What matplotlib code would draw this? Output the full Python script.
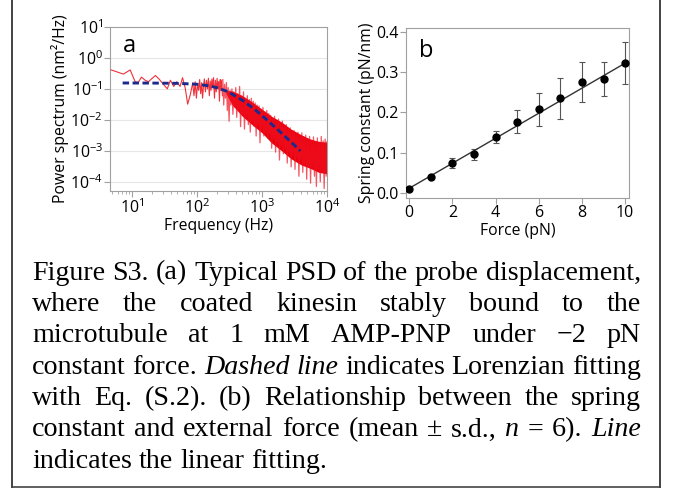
import numpy as np
import matplotlib
matplotlib.use("Agg")
import matplotlib.pyplot as plt
from matplotlib.lines import Line2D
from matplotlib.ticker import LogLocator, NullLocator, NullFormatter

# ---- panel a: PSD ----
# low-frequency part, thin single trace
psd_f_low = [4.8, 7.4, 9.4, 11.2, 12.5, 14, 16, 18, 20, 23, 26, 31, 35, 39, 44, 49, 55, 60, 66, 72, 79, 86]
psd_p_low = [0.41, 0.30, 0.41, 0.17, 0.16, 0.24, 0.19, 0.17, 0.21, 0.27, 0.21, 0.135, 0.10, 0.19, 0.12,
             0.17, 0.12, 0.23, 0.107, 0.032, 0.065, 0.155]
# mid part, jagged
psd_f_mid = [90, 94, 98, 102, 106, 110, 114, 118, 122, 126, 130, 135, 140, 145, 150, 155, 160, 165,
             170, 175, 180, 186, 192, 198, 204, 210, 216, 222, 228, 234, 240, 246]
psd_p_mid = [0.06, 0.17, 0.05, 0.14, 0.09, 0.20, 0.07, 0.16, 0.05, 0.12, 0.21, 0.08, 0.19, 0.10, 0.22,
             0.06, 0.18, 0.09, 0.21, 0.11, 0.23, 0.05, 0.19, 0.08, 0.22, 0.10, 0.17, 0.04, 0.20, 0.09,
             0.19, 0.06]
# high-frequency spikes
psd_f_high = [250, 258, 266, 275, 284, 293, 302, 312, 322, 333, 345, 357, 369, 382, 395, 409, 423, 438,
              453, 469, 485, 502, 520, 538, 557, 576, 596, 617, 639, 661, 684, 708, 733, 759, 785, 813,
              841, 870, 901, 932, 965, 999, 1034, 1070, 1108, 1147, 1187, 1229, 1272, 1316, 1362, 1410,
              1460, 1511, 1564, 1618, 1675, 1734, 1795, 1858, 1923, 1990, 2060, 2132, 2207, 2284, 2364,
              2447, 2533, 2621, 2713, 2808, 2906, 3008, 3113, 3222, 3335, 3452, 3573, 3698, 3827, 3961,
              4100, 4244, 4392, 4546, 4705, 4870, 5040, 5217, 5399, 5588, 5784, 5986, 6196, 6413, 6637,
              6869, 7110, 7359, 7616, 7883, 8159, 8445, 8740, 9046, 9363, 9691, 10000]
psd_p_high = [0.20, 0.03, 0.14, 0.05, 0.16, 0.02, 0.11, 0.009, 0.09, 0.03, 0.10, 0.015, 0.08, 0.025,
              0.11, 0.012, 0.07, 0.02, 0.12, 0.006, 0.06, 0.015, 0.08, 0.005, 0.05, 0.012, 0.06, 0.007,
              0.045, 0.004, 0.05, 0.009, 0.04, 0.006, 0.035, 0.003, 0.03, 0.007, 0.028, 0.0018, 0.022,
              0.005, 0.025, 0.003, 0.018, 0.004, 0.02, 0.0025, 0.016, 0.0035, 0.014, 0.0012, 0.011,
              0.0025, 0.013, 0.0009, 0.009, 0.002, 0.0105, 0.0005, 0.008, 0.0015, 0.009, 0.0008, 0.006,
              0.0012, 0.007, 0.0004, 0.005, 0.0009, 0.0055, 0.0003, 0.004, 0.0007, 0.0045, 0.00025,
              0.0035, 0.0006, 0.004, 0.00015, 0.003, 0.0005, 0.0038, 0.0002, 0.0028, 0.0004, 0.0032,
              0.00012, 0.0025, 0.0003, 0.0029, 0.00009, 0.0022, 0.0003, 0.0028, 0.00015, 0.002, 0.00007,
              0.0026, 0.00025, 0.0019, 0.0001, 0.0029, 0.0002, 0.0021, 0.00006, 0.0024, 0.00015, 0.002]
# dense core of the noisy spectrum
band_f = [280, 350, 500, 700, 1000, 1400, 2000, 2800, 4000, 5500, 7500, 10000]
band_hi = [0.09, 0.085, 0.06, 0.038, 0.022, 0.013, 0.0085, 0.005, 0.0033, 0.0024, 0.002, 0.0019]
band_lo = [0.07, 0.03, 0.013, 0.007, 0.0038, 0.0018, 0.001, 0.00055, 0.00035, 0.00027, 0.0002, 0.00018]
# Lorentzian fit (dashed)
fit_f = [7.2, 20, 50, 100, 150, 200, 300, 500, 800, 1200, 2000, 3900]
fit_p = [0.155, 0.154, 0.151, 0.141, 0.126, 0.110, 0.081, 0.043, 0.0205, 0.0098, 0.0037, 0.00099]

# ---- panel b: spring constant vs force ----
force = [0, 1, 2, 3, 4, 5, 6, 7, 8, 9, 10]
spring_k = [0.009, 0.040, 0.074, 0.096, 0.138, 0.177, 0.208, 0.236, 0.277, 0.284, 0.323]
spring_sd = [0.002, 0.005, 0.013, 0.014, 0.015, 0.028, 0.041, 0.051, 0.050, 0.042, 0.052]
lin_x = [0, 10]
lin_y = [0.011, 0.323]

W, H = 679, 488
fig = plt.figure(figsize=(W / 100, H / 100), dpi=100)
sans = ['Open Sans', 'DejaVu Sans']
plt.rcParams['font.family'] = sans
plt.rcParams['mathtext.fontset'] = 'custom'
plt.rcParams['mathtext.rm'] = 'Open Sans'

spine_col = '#a0a0a0'
lab_size = 11.3
tick_size = 11.5

# Panel a
ax1 = fig.add_axes([110 / W, 1 - 191 / H, 217 / W, 164 / H])
ax1.set_xscale('log')
ax1.set_yscale('log')
for yv in [1e-4, 1e-3, 1e-2, 1e-1, 1e0]:
    ax1.axhline(yv, color='#e6e6e6', lw=0.8, zorder=0)
ax1.fill_between(band_f, band_lo, band_hi, color='#e8000e', lw=0, zorder=2)
ax1.plot(psd_f_low + psd_f_mid, psd_p_low + psd_p_mid, color='#f0303a', lw=0.8, zorder=3)
ax1.plot(psd_f_high, psd_p_high, color='#f01020', lw=0.9, alpha=0.7, zorder=3)
ax1.plot(fit_f, fit_p, color='#1c2a8c', lw=2.1, ls=(0, (2.2, 1.2)), zorder=4)
ax1.set_xlim(4.6, 1e4)
ax1.set_ylim(5e-5, 10)
ax1.set_xticks([1e1, 1e2, 1e3, 1e4])
ax1.set_xticklabels(['10$^{1}$', '10$^{2}$', '10$^{3}$', '10$^{4}$'])
ax1.set_yticks([1e-4, 1e-3, 1e-2, 1e-1, 1e0, 1e1])
ax1.set_yticklabels(['10$^{-4}$', '10$^{-3}$', '10$^{-2}$', '10$^{-1}$', '10$^{0}$', '10$^{1}$'])
ax1.xaxis.set_minor_locator(LogLocator(base=10, subs=np.arange(2, 10)))
ax1.xaxis.set_minor_formatter(NullFormatter())
ax1.yaxis.set_minor_locator(NullLocator())
ax1.tick_params(which='major', direction='out', length=4, color=spine_col, labelsize=tick_size, pad=1)
ax1.tick_params(which='minor', direction='out', length=2.5, color=spine_col)
for s in ax1.spines.values():
    s.set_color(spine_col)
    s.set_linewidth(0.8)
ax1.set_xlabel('Frequency (Hz)', fontsize=lab_size, labelpad=1)
ax1.set_ylabel('Power spectrum (nm²/Hz)', fontsize=lab_size, labelpad=1)
ax1.text(0.06, 0.85, 'a', transform=ax1.transAxes, fontsize=17)

# Panel b
ax2 = fig.add_axes([406 / W, 1 - 197.7 / H, 223 / W, 169.4 / H])
ax2.errorbar(force, spring_k, yerr=spring_sd, fmt='none', ecolor='#555555', elinewidth=0.8,
             capsize=2.5, capthick=0.8, zorder=2)
ax2.plot(lin_x, lin_y, color='#333333', lw=1.0, zorder=3)
ax2.plot(force, spring_k, 'o', color='black', ms=5, zorder=4)
ax2.set_xlim(-0.15, 10.18)
ax2.set_ylim(-0.0125, 0.41)
ax2.set_xticks([0, 2, 4, 6, 8, 10])
ax2.set_yticks([0.0, 0.1, 0.2, 0.3, 0.4])
ax2.set_yticklabels(['0.0', '0.1', '0.2', '0.3', '0.4'])
ax2.tick_params(direction='out', length=4, color=spine_col, labelsize=tick_size, pad=1)
for s in ax2.spines.values():
    s.set_color(spine_col)
    s.set_linewidth(0.8)
ax2.set_xlabel('Force (pN)', fontsize=lab_size, labelpad=2)
ax2.set_ylabel('Spring constant (pN/nm)', fontsize=lab_size, labelpad=1)
ax2.text(0.06, 0.83, 'b', transform=ax2.transAxes, fontsize=17)

# Caption, justified
caption_lines = [
    "Figure S3. (a) Typical PSD of the probe displacement,",
    "where the coated kinesin stably bound to the",
    "microtubule at 1 mM AMP-PNP under \u22122 pN",
    "constant force. *Dashed *line indicates Lorenzian fitting",
    "with Eq. (S.2). (b) Relationship between the spring",
    "constant and external force (mean \u00b1 s.d., *n = 6). *Line",
    "indicates the linear fitting.",
]
cap_left, cap_right = 32, 641
cap_base0, cap_step = 279.5, 31.4
renderer = fig.canvas.get_renderer()

# size the serif font so the first (tight) line fills the text width
probe = fig.text(0, 0, caption_lines[0], fontsize=10, family='Liberation Serif')
cap_size = 10 * (cap_right - cap_left) / probe.get_window_extent(renderer).width * 0.995
probe.remove()

for i, line in enumerate(caption_lines):
    yb = 1 - (cap_base0 + i * cap_step) / H
    words = line.split(' ')
    texts = []
    for w in words:
        st = 'italic' if w.startswith('*') else 'normal'
        t = fig.text(0, yb, w.lstrip('*'), fontsize=cap_size, family='Liberation Serif',
                     style=st, va='baseline', ha='left')
        texts.append(t)
    widths = [t.get_window_extent(renderer).width for t in texts]
    if i == len(caption_lines) - 1:
        gap = 0.25 * cap_size * 100 / 72
    else:
        gap = (cap_right - cap_left - sum(widths)) / (len(words) - 1)
    x = cap_left
    for t, wd in zip(texts, widths):
        t.set_x(x / W)
        x += wd + gap

# frame around figure + caption
fig.add_artist(Line2D([12 / W, 12 / W], [0, 1], color='#222222', lw=1.2))
fig.add_artist(Line2D([660 / W, 660 / W], [0, 1], color='#222222', lw=1.2))
fig.add_artist(Line2D([12 / W, 660 / W], [1 - 486.5 / H, 1 - 486.5 / H], color='#444444', lw=1.2))

fig.savefig('out.png', dpi=100)
